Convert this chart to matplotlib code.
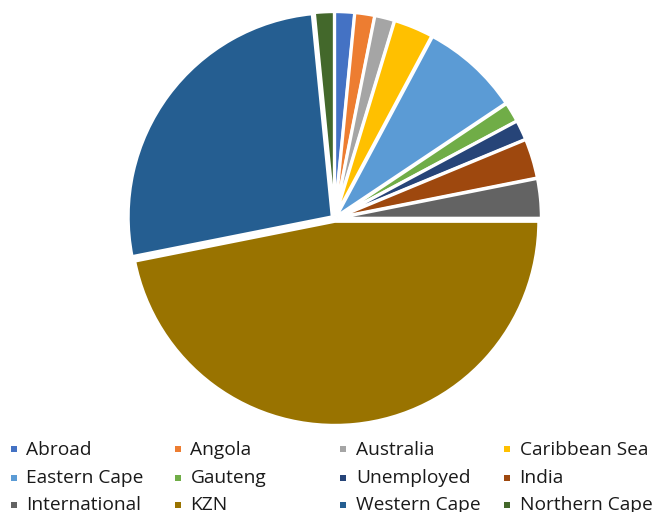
import matplotlib
matplotlib.use("Agg")
import matplotlib.pyplot as plt
from matplotlib.patches import Rectangle

categories = ["Abroad", "Angola", "Australia", "Caribbean Sea", "Eastern Cape",
              "Gauteng", "Unemployed", "India", "International", "KZN",
              "Western Cape", "Northern Cape"]
values = [1, 1, 1, 2, 5, 1, 1, 2, 2, 30, 17, 1]
colors = ["#4472C4", "#ED7D31", "#A5A5A5", "#FFC000", "#5B9BD5", "#70AD47",
          "#264478", "#9E480E", "#636363", "#997300", "#255E91", "#43682B"]

W, H = 657, 512
fig = plt.figure(figsize=(W / 100, H / 100), dpi=100)

cx, cy, r = 334.5, 218.5, 204
ax = fig.add_axes([(cx - r) / W, (H - cy - r) / H, 2 * r / W, 2 * r / H])
wedges, _ = ax.pie(values, colors=colors, startangle=90, counterclock=False,
                   explode=[0.014] * len(values),
                   wedgeprops=dict(edgecolor="white", linewidth=2.2))
for w in wedges:
    w.set_clip_on(False)
ax.set_xlim(-1, 1)
ax.set_ylim(-1, 1)
ax.set_aspect("equal")
ax.axis("off")

# legend: 4 columns x 3 rows, row-major order
col_x = [10.5, 174.5, 340, 503.5]
marker_y = [449, 477.5, 505.2]
base_y = [454.7, 482.7, 510.3]
msize = 6
for i, (lab, col) in enumerate(zip(categories, colors)):
    rI, cI = divmod(i, 4)
    mx, my = col_x[cI], marker_y[rI]
    fig.add_artist(Rectangle((mx / W, 1 - (my + msize / 2) / H), msize / W, msize / H,
                             transform=fig.transFigure, facecolor=col, edgecolor="none"))
    fig.text((mx + 16) / W, 1 - base_y[rI] / H, lab, fontsize=13.8,
             family="Open Sans", color="#1a1a1a", va="baseline", ha="left")

fig.savefig("out.png", dpi=100)
